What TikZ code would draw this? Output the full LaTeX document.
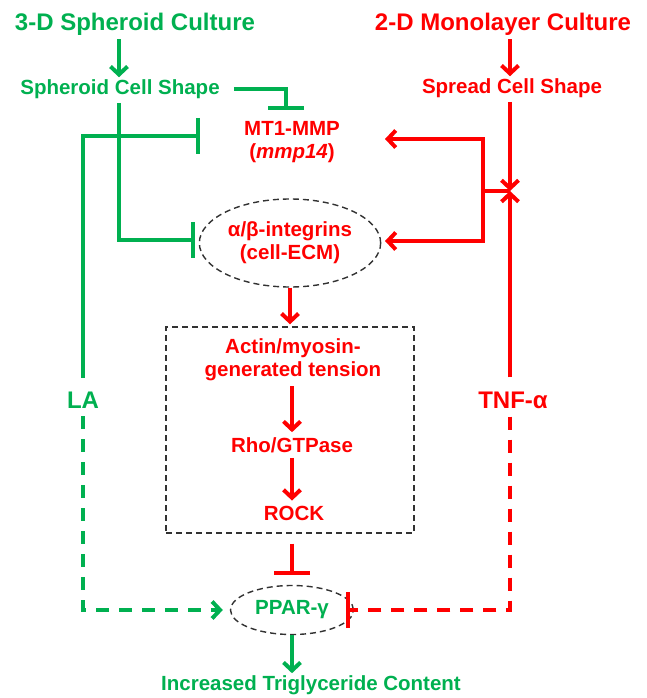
\documentclass[tikz,border=0pt]{standalone}
\usepackage{fontspec}
\setmainfont{Liberation Sans}
\usetikzlibrary{arrows.meta,shapes.geometric}
\definecolor{grn}{RGB}{0,176,80}
\definecolor{rd}{RGB}{255,0,0}
\definecolor{dash}{RGB}{50,50,50}

\begin{document}
\begin{tikzpicture}[x=1pt,y=-1pt,
  lbl/.style={font=\bfseries\fontsize{20.5}{23}\selectfont, align=center, inner sep=2pt},
  ttl/.style={font=\bfseries\fontsize{24}{28}\selectfont, inner sep=2pt},
  act/.style={line width=4pt, -{Straight Barb[length=8pt,width=17pt]}},
  inh/.style={line width=4pt, -{Bar[width=36pt]}},
  dsh/.style={dash pattern=on 13pt off 10pt},
  thin/.style={draw=dash, line width=1.4pt, dash pattern=on 6pt off 4pt}]
  \useasboundingbox (0,0) rectangle (646,698);
  % top labels
  \node[ttl, grn] (t3d) at (135,24) {3-D Spheroid Culture};
  \node[ttl, rd] (t2d) at (503,24) {2-D Monolayer Culture};
  \node[lbl, grn] (sph) at (120,89) {Spheroid Cell Shape};
  \node[lbl, rd] (spr) at (512,88) {Spread Cell Shape};
  % targets
  \node[lbl, rd] (mt) at (292,142) {MT1-MMP\\(\textit{mmp14})};
  \node[lbl, rd, ellipse, thin, minimum width=163pt, minimum height=88pt] (itg) at (290,243) {α/β-integrins\\(cell-ECM)};
  \node[thin, minimum width=248pt, minimum height=206pt] (box) at (290,430) {};
  \node[lbl, rd] (act) at (293,360) {Actin/myosin-\\generated tension};
  \node[lbl, rd] (rho) at (292,445) {Rho/GTPase};
  \node[lbl, rd] (rock) at (294,513) {ROCK};
  \node[lbl, grn, ellipse, thin, minimum width=123pt, minimum height=49pt] (ppar) at (292,610) {PPAR-γ};
  \node[lbl, grn] (inc) at (311,685) {Increased Triglyceride Content};
  \node[ttl, grn] (la) at (83,400) {LA};
  \node[ttl, rd] (tnf) at (513,400) {TNF-α};
  % end points
  \coordinate (mtT) at (286,110);
  \coordinate (mtL) at (200,136);
  \coordinate (itgL) at (195,240);
  \coordinate (jn) at (510,191);
  \coordinate (br) at (483,191);
  \coordinate (mtR) at (385,139);
  \coordinate (itgR) at (385,241);
  % green side
  \draw[act, grn, shorten <=2pt] (t3d.south -| 119,0) -- (sph.north -| 119,0);
  \draw[inh, grn, shorten <=12pt] (sph.east) -| (mtT);
  \draw[inh, grn, shorten <=2pt] (sph.south -| 119,0) |- (itgL);
  \draw[inh, grn, shorten <=12pt] (la.north) |- (mtL);
  \draw[act, grn, dsh, shorten <=6pt, shorten >=7pt] (la.south) |- (ppar.west);
  \draw[act, grn] (ppar.south) -- (inc.north -| ppar.south);
  % red side
  \draw[act, rd, shorten <=2pt] (t2d.south -| jn) -- (spr.north -| jn);
  \draw[act, rd, shorten <=2pt] (spr.south -| jn) -- (jn);
  \draw[act, rd, shorten <=12pt] (tnf.north -| jn) -- (jn);
  \draw[act, rd] (jn) -- (br) |- (mtR);
  \draw[act, rd] (br) |- (itgR);
  \draw[inh, rd, dsh, shorten <=6pt, shorten >=-8pt] (tnf.south -| jn) |- (ppar.east);
  \draw[act, rd, shorten >=2pt] (itg.south) -- (box.north);
  \draw[act, rd, shorten <=3pt, shorten >=3pt] (act.south -| rho) -- (rho.north);
  \draw[act, rd, shorten <=3pt, shorten >=3pt] (rho.south) -- (rock.north -| rho);
  \draw[inh, rd, shorten <=10pt, shorten >=10pt] (box.south -| ppar) -- (ppar.north);
\end{tikzpicture}
\end{document}
